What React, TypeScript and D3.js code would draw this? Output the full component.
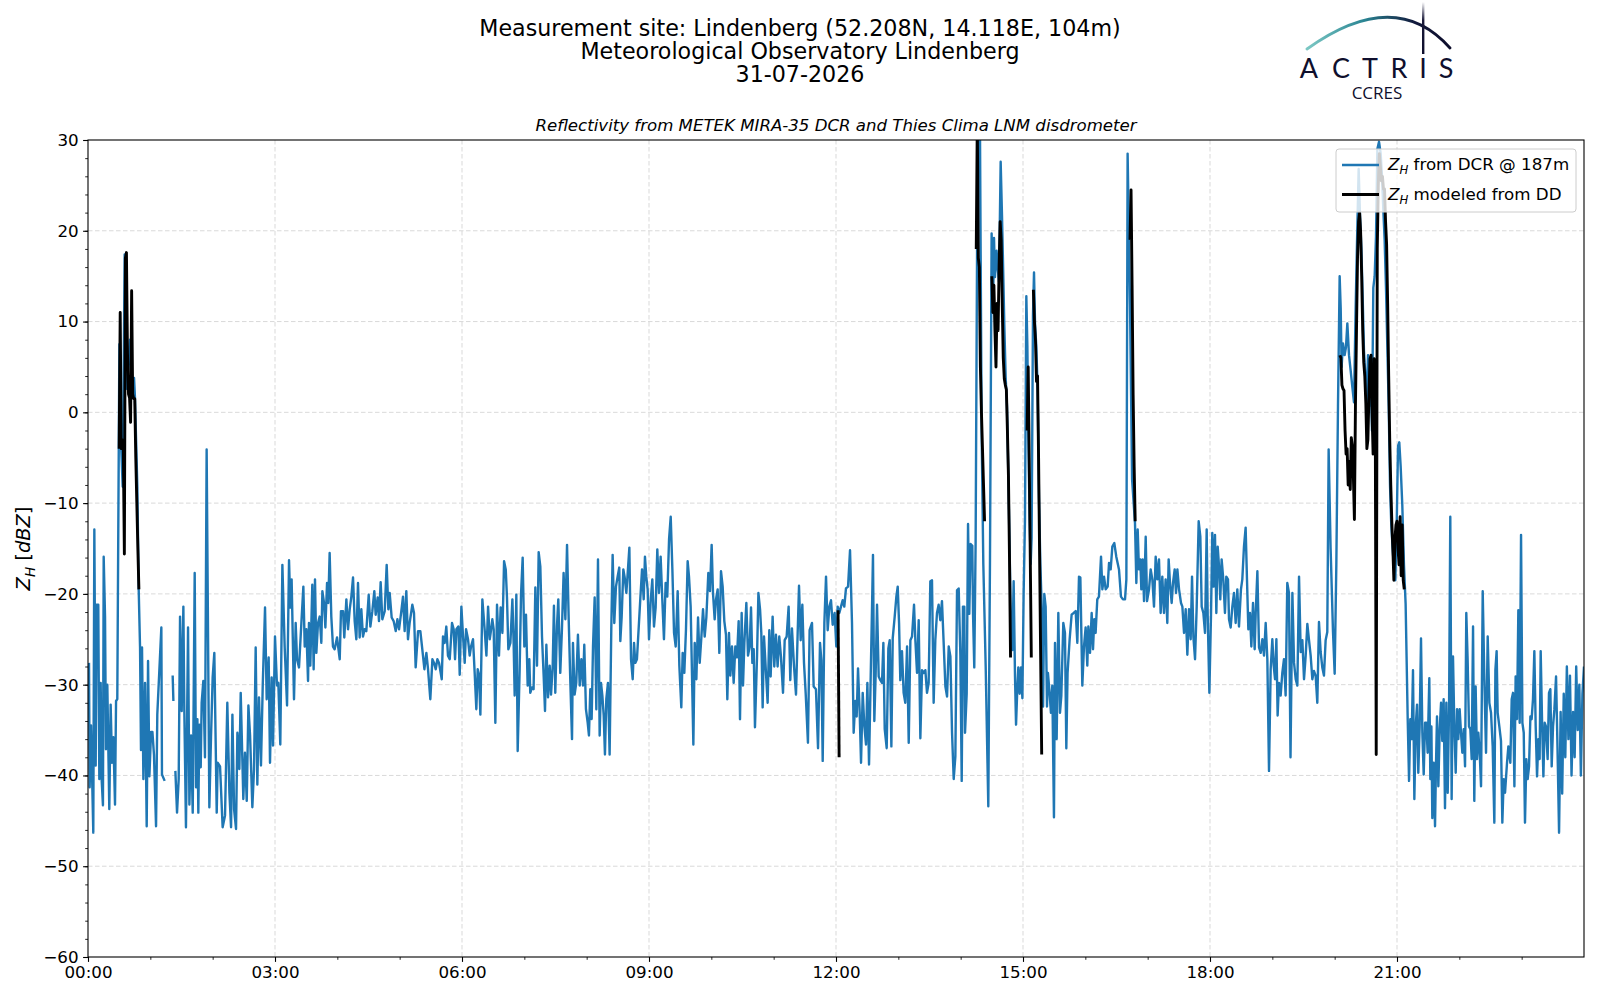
import { useEffect, useRef } from "react";
import * as d3 from "d3";

const WIDTH = 1600;
const HEIGHT = 1000;

// DCR reflectivity at 187 m as [minute of day, dBZ]; null = no data
type Obs = [number, number | null];

const dcr0003: Obs[] = [
  [0.96, -27.6], [1.6, -41.3], [2.9, -34.5], [5.1, -46.3], [6.1, -12.9], [7.4, -38.9], [8.3, -21.2], [9.9, -21.2],
  [10.9, -40.4], [12.2, -29.8], [13.2, -40.6], [14.4, -43.3], [15.1, -15.9], [16.4, -22.5], [17.3, -37.1], [18.6, -30],
  [20.5, -43.7], [21.8, -32.2], [23.1, -38.6], [24.4, -35.8], [26, -43.2], [27, -31.8], [28.2, -31.6], [30.2, 7.5],
  [32.1, -4.3], [33.4, -8.2], [35.3, 17.4], [37.2, 2.6], [40.4, 8], [42, 2.1], [44.3, 3.8], [45.2, 1.6],
  [47.5, -8.2], [48.8, -19.5], [50.1, -25.9], [51, -37.2], [52, -25.9], [53.3, -40.4], [54.9, -29.8], [56.5, -45.6],
  [57.8, -27.4], [59.1, -40.1], [60.7, -35.2], [62, -35.2], [63.5, -37.7], [65.5, -45.6], [66.7, -33.3], [70.6, -23.7],
  [71.2, -39.9], [73.8, -40.6], [76, null], [81.5, -29], [82.2, -31.8], [83, null], [84.1, -39.5], [85.7, -44.1],
  [87.3, -40.4], [88.6, -22.5], [90.2, -32.9], [91.8, -21.4], [92.7, -32.7], [94.3, -45.7], [96.3, -23.7], [97.6, -43.2],
  [99.2, -35.6], [100.8, -44.1], [102.7, -17.7], [104, -41.3], [105.3, -33.8], [106.2, -44.1], [107.2, -34.4], [108.5, -39.1],
  [109.4, -32], [111, -29.6], [112.6, -38], [114.2, -4.1], [116.8, -43.5], [118.4, -35.8], [120, -29.2], [121.6, -26.5],
  [123.9, -44.1], [124.8, -38.6], [127.1, -39], [129.6, -45.7], [131.9, -44.4], [134.1, -32], [136.1, -41.9], [137.7, -45.7],
  [139, -33.3], [140.6, -43.7], [142.5, -45.9], [143.8, -35.3], [145.7, -39.3], [147, -30.9], [149.5, -42.6], [151.1, -37.5],
  [152.8, -42.8], [154.4, -32.3], [156, -35.6], [158.2, -43.5], [159.8, -39.3], [161.4, -25.9], [163, -41], [164.6, -31.4],
  [166.5, -38.9], [168.2, -30.1], [170.4, -21.5], [172, -31.6], [173.9, -27], [175.2, -38.6], [176.8, -29.2], [178.1, -36.7],
];
const dcr0306: Obs[] = [
  [180, -24.7], [181.9, -30.1], [183.2, -29.8], [185.1, -36.6], [187.1, -16.8], [189.3, -25.8], [191.6, -32.3], [193.5, -16.3],
  [194.8, -21.5], [196, -18.4], [198.3, -31.6], [199.9, -23.2], [201.2, -27.2], [203.1, -28.1], [205.4, -23.2], [207.3, -19.2],
  [208.6, -25.8], [210.2, -23.9], [211.8, -29.6], [212.7, -23.2], [214, -27.9], [215.9, -19], [217.2, -28.3], [218.5, -18.4],
  [219.8, -26.5], [221.4, -23.2], [223, -22.5], [224.6, -25.4], [225.6, -19.7], [227.2, -21], [228.5, -23.7], [230.1, -18.8],
  [231.3, -21], [232.6, -15.5], [234.2, -22.5], [235.8, -25.8], [237.4, -26.1], [239.7, -24.8], [242.3, -27.2], [243.5, -21.9],
  [245.5, -21.9], [246.7, -24.8], [248.7, -20.6], [250.3, -23.9], [251.9, -21.7], [253.5, -20.3], [255.1, -18.2], [256.7, -23],
  [258.3, -25], [259.9, -18.8], [261.5, -24.8], [263.1, -21.7], [264.7, -24.7], [266.3, -23.9], [267.9, -24.1], [270.2, -20.1],
  [271.8, -23.6], [273.7, -21.9], [275.6, -19.7], [276.9, -22.3], [278.8, -20.4], [280.1, -23], [281.7, -18.7], [283.3, -22.8],
  [285.6, -21.9], [287.5, -16.8], [289.1, -21.7], [290.4, -19.9], [292.3, -22.6], [294.2, -23], [296.2, -24.1], [297.8, -22.8],
  [299.4, -23.9], [301.6, -21.9], [303.2, -20.3], [304.8, -24.1], [306.4, -19.7], [308, -25], [309.6, -23.2], [312.2, -21.2],
  [313.8, -22.1], [315.4, -28.1], [317.7, -24.1], [319.9, -24.1], [321.8, -26.1], [323.8, -28.3], [325.7, -26.5], [327.3, -28.3],
  [329.5, -31.6], [331.5, -27.2], [333.1, -27.6], [334.7, -28.3], [336.3, -27.2], [337.9, -27.6], [340.5, -29.4], [341.7, -24.7],
  [343.3, -25.4], [344.9, -23.6], [346.5, -26.8], [348.2, -27.2], [350.4, -23.2], [352, -23.9], [353.3, -27.2], [354.6, -23.9],
  [356.5, -23.6], [357.8, -28.9], [359.4, -21.4],
];
const dcr0609: Obs[] = [
  [361, -24.7], [362.6, -27.6], [363.9, -23.9], [365.8, -25], [367.4, -26.8], [368.7, -25.8], [370.6, -25], [372.2, -28.7],
  [373.8, -32.7], [375.1, -28.3], [376.4, -28.9], [377.7, -33.3], [379.6, -20.6], [381.8, -23.9], [383.5, -26.8], [385.1, -21.4],
  [386.7, -25], [388.3, -23.7], [389.2, -22.8], [390.5, -23.9], [392.1, -34.2], [393.7, -21.2], [395.6, -26.8], [397.2, -21.5],
  [398.9, -24.3], [400.5, -16.4], [402.1, -17.3], [403.3, -20.4], [404.6, -26.1], [406.6, -25.4], [408.5, -20.6], [409.7, -25.4],
  [410.7, -31.2], [412.3, -20.1], [413.6, -37.3], [415.5, -28.3], [416.8, -20.1], [418.4, -16], [420, -25.8], [421.6, -22.3],
  [423.2, -30.1], [424.8, -27.2], [425.7, -30.9], [427.4, -30.3], [428.9, -30.5], [430.6, -19.3], [432.2, -27.9], [433.8, -15.4],
  [435.4, -17], [437, -24.7], [438.6, -29], [439.9, -32.9], [441.2, -25.6], [442.8, -31.4], [444.4, -27.9], [445.7, -31.1],
  [447.3, -27.9], [448.5, -21.3], [449.8, -30.9], [451.4, -23.6], [452.7, -20.6], [454.6, -28.7], [456.2, -23.9], [457.8, -17.7],
  [459.5, -22.8], [461.1, -14.6], [462.7, -22.8], [464.3, -29.8], [465.9, -36], [466.8, -25.4], [468.4, -31.1], [470, -29.8],
  [471.6, -24.5], [473.3, -30.1], [474.9, -27.2], [476.5, -30.1], [477.7, -25.6], [479.3, -32.7], [481, -34.2], [482.2, -35.6],
  [483.5, -30.5], [484.8, -33.8], [486.1, -25.8], [487.7, -20.4], [489.3, -32.7], [490.9, -16.2], [492.5, -35.6], [493.8, -29.8],
  [495.1, -31.2], [496.4, -33.4], [497.6, -37.7], [498.9, -31.6], [500.5, -29.8], [502.1, -37.7], [503.7, -23.9], [505, -15.7],
  [506.6, -23.2], [508.2, -19.2], [509.8, -18.1], [511.4, -17.1], [512.4, -25.2], [513.7, -22.5], [515.3, -17.3], [516.6, -18.2],
  [518.2, -19.9], [519.5, -17.7], [521.1, -14.9], [522.7, -27.2], [524.3, -29.4], [525.6, -25.4], [526.8, -27.6], [528.4, -27.2],
  [530, -23.9], [531.7, -20.4], [533.3, -17.3], [534.9, -20.6], [536.1, -15.9], [537.4, -18.1], [538.7, -19.5],
];
const dcr0912: Obs[] = [
  [540, -25], [541.6, -20.8], [543.2, -18.4], [544.8, -23.6], [546.4, -21.5], [548, -15.1], [549.6, -19.9], [551.2, -15.9],
  [552.8, -20.6], [554.4, -25], [556, -18.8], [557.6, -20.3], [559.3, -14], [560.9, -11.5], [562.5, -17.3], [564.1, -24.3],
  [565.7, -25.8], [567.6, -19.7], [569.2, -27.9], [571.1, -32.5], [572.4, -26.5], [574, -28.7], [575.6, -23.9], [577.2, -16.4],
  [578.5, -18.1], [580.1, -21.4], [581.4, -29], [582.7, -36.6], [584, -25.4], [585.6, -29.4], [587.2, -22.6], [588.8, -27.6],
  [590.4, -24.8], [592, -21.7], [593.6, -24.7], [595.2, -22.6], [597.1, -17.7], [598.7, -19.7], [600.3, -14.6], [601.6, -19.9],
  [603.2, -22.8], [604.5, -20.6], [606.1, -19.5], [607.7, -26.5], [609.3, -17.5], [610.9, -19.2], [612.5, -23], [614.1, -24.5],
  [615.4, -31.6], [617, -24.3], [618.3, -29], [619.9, -25.8], [621.5, -29.8], [623.1, -25.8], [624.7, -27], [626.3, -23],
  [627.6, -33.8], [629.2, -22.1], [630.5, -30.1], [631.8, -25.4], [633.7, -21], [635.3, -26.8], [636.9, -25.8], [638.2, -21.5],
  [639.5, -27.6], [640.8, -26.1], [642, -34.7], [644, -26.8], [645.3, -19.9], [646.9, -21.7], [648.1, -24.3], [649.4, -32.5],
  [650.7, -24.7], [652.6, -28.7], [654.2, -32], [655.8, -24], [657.1, -29.1], [659, -22.5], [660.6, -28], [662.2, -24.5],
  [663.8, -28], [665.4, -24.7], [667, -26.9], [669, -30.9], [670.6, -25.1], [672.5, -24.7], [674.4, -21.4], [676, -29.5],
  [677.6, -23.8], [679.6, -28], [681.5, -31.1], [683.1, -24.3], [684.4, -19.1], [686, -25.1], [687.6, -21.2], [689.2, -27.6],
  [690.8, -30.9], [693, -36.4], [694.6, -24], [696.9, -23.2], [698.5, -30.2], [700.7, -30.5], [702.7, -37], [704.6, -25.4],
  [705.9, -27.3], [707.2, -38.4], [708.8, -23.2], [710.4, -18.1], [712, -24], [713.6, -21.4], [715.2, -20.7], [716.8, -23.4],
  [718.7, -22.1],
];
const dcr1215: Obs[] = [
  [720.3, -25.8], [721.6, -21.4], [723.2, -22.1], [724.8, -21.4], [726.4, -20.7], [728, -21.4], [729.6, -19.4], [731.6, -19.2],
  [733.5, -15.2], [735.4, -23.2], [737, -35.3], [738.6, -31.8], [739.9, -33.5], [741.2, -28.2], [742.8, -33.1], [744.1, -38.6],
  [745.7, -30.9], [747.3, -34.6], [748.9, -36.6], [750.2, -29.8], [751.8, -38.8], [753.4, -29.1], [754.7, -21.4], [755.6, -15.7],
  [756.9, -34], [758.2, -28.7], [759.5, -21.2], [761.1, -29.1], [762.7, -29.5], [764.3, -29.8], [765.6, -25.4], [766.9, -34.9],
  [768.8, -37], [770.4, -26], [771.7, -25.1], [773.3, -36.8], [774.6, -24.9], [776.5, -22.5], [778.1, -20.3], [779.4, -19.2],
  [780.7, -23.2], [781.9, -29.5], [783.5, -26.3], [785.1, -30.9], [786.7, -32], [788.4, -25.8], [790, -36.4], [791.6, -25.1],
  [793.2, -24.7], [795.1, -21.2], [796.4, -25.1], [798, -28.7], [799.6, -22.9], [801.2, -35.9], [802.8, -28.4], [804.4, -28.7],
  [806, -28.4], [807.6, -30.9], [809.2, -29.8], [810.8, -18.6], [812.4, -18.5], [814, -32], [815.6, -25.1], [817.2, -22.1],
  [818.8, -21.2], [820.4, -22.9], [822, -20.8], [823.7, -25.6], [825.3, -30.2], [826.9, -31.3], [828.5, -25.8], [830.1, -26.9],
  [831.7, -35.3], [833.3, -40.4], [834.9, -37.9], [836.5, -19.6], [838.1, -19.4], [839.7, -26.7], [841, -40.6], [842.2, -21.4],
  [843.5, -21.4], [844.2, -35.3], [845.8, -31], [847.1, -12.3], [848.3, -22.2], [849.6, -14.5], [851.2, -14.7], [851.9, -22.2],
  [853.1, -28.1], [854.4, -14.3], [856.4, 32], [858.6, 31], [860.2, -2.3], [861.8, -16.7], [864.1, -28.1], [866.6, -43.4],
  [868.2, -16.7], [869.8, 19.7], [871.1, 11.1], [872.1, 19.2], [873, 14.9], [874.6, 17.8], [875.6, 15.9], [876.9, 14.4],
  [878.5, 27.6], [879.8, 21.6], [880.7, 16.8], [882, 9.7], [883.3, 3.9], [884.6, 0.6], [885.9, -7.1], [887.2, -15.7],
  [888.4, -23.8], [889.7, -26.2], [891, -18.6], [892.3, -29.1], [893.3, -34.4], [894.5, -30.5], [895.5, -28.1], [896.8, -31],
  [898.1, -28.1], [899.4, -31.5],
];
const dcr1518: Obs[] = [
  [900.6, -20], [901.9, -11.9], [903.2, 12.8], [904.2, 7.3], [905.1, -2.3], [906.4, -11.9], [907.4, -16.7], [908.3, -13.8],
  [909.6, 10.6], [910.6, 15.4], [911.6, 9.7], [912.8, 7.3], [914.1, 2.5], [915.4, -9.5], [916.7, -16.7], [918, -21.4],
  [919.3, -32.4], [920.5, -20], [921.8, -21.4], [923.1, -32.4], [924, -28.7], [925.6, -30.9], [926.9, -33.1], [928.2, -30.1],
  [929.8, -44.6], [930.8, -25.4], [932.4, -36], [934, -22.1], [935.6, -33.1], [936.9, -31.2], [938.8, -23.2], [940.4, -24.3],
  [941.7, -37], [942.9, -28.7], [944.9, -25], [946.8, -22.3], [948.8, -22.1], [950.7, -21.9], [952.3, -25.4], [953.9, -18.1],
  [955.2, -18.2], [957.1, -30.1], [958.7, -25.8], [960.3, -23.7], [961.9, -27.9], [962.9, -23.6], [964.5, -26.5], [966.1, -22.1],
  [967.4, -26.1], [968.6, -22.8], [969.9, -24.3], [971.5, -20.6], [973.1, -20.3], [975.1, -15.9], [976.4, -19.5], [978, -18.1],
  [979.6, -19.5], [981.5, -19.2], [982.8, -16.6], [984.4, -17.3], [986, -14.8], [987.9, -14.4], [989.8, -15.9], [992.4, -17.3],
  [994.3, -20.3], [996.2, -20.6], [998.2, -20.6], [999.5, -18.4], [1000.7, 28.5], [1003, 12], [1005, -7.4], [1007.8, -12.2],
  [1009.1, -18.8], [1010.4, -12.9], [1011.6, -17.3], [1012.9, -16.2], [1013.9, -19.5], [1015.2, -16.2], [1016.5, -20.8], [1018.1, -13.7],
  [1019.4, -20.8], [1021.3, -19.5], [1022.9, -17.3], [1024.5, -18.4], [1026.1, -21.4], [1027.7, -15.9], [1029.3, -18.4], [1030.9, -16.2],
  [1032.5, -22.1], [1034.1, -18.1], [1035.7, -22.1], [1037.3, -18.4], [1038.9, -23.2], [1040.2, -16.2], [1041.5, -18.8], [1043.1, -21],
  [1044.4, -18.8], [1046, -17.3], [1047.3, -19.9], [1048.6, -17.3], [1050.2, -19.5], [1052.1, -21], [1053.4, -21.4], [1055, -24.3],
  [1056.6, -21.7], [1058.2, -26.7], [1059.8, -21.7], [1061.4, -25], [1062.7, -18.1], [1064, -24.7], [1065.6, -27.2], [1067.2, -21.4],
  [1069.1, -12], [1070.7, -13.7], [1072, -21.4], [1073.6, -22.1], [1075.2, -24.3], [1076.8, -12.9], [1077.8, -22.5], [1079.4, -30.9],
];
const dcr1821: Obs[] = [
  [1081, -22.1], [1082.2, -13.3], [1083.5, -19.2], [1084.8, -13.5], [1086.1, -22.1], [1087.4, -14.8], [1088.7, -17], [1089.9, -20.6],
  [1091.2, -16.2], [1092.8, -18.4], [1094.4, -22.1], [1095.7, -18.1], [1097.3, -18.4], [1098.3, -22.8], [1099.9, -23.7], [1101.5, -21.4],
  [1103.1, -19.9], [1104.7, -23.2], [1106.3, -19.5], [1107.9, -23.6], [1109.8, -19.5], [1111.1, -18.4], [1112.7, -14.8], [1114.3, -12.7],
  [1115.6, -18.4], [1116.9, -23.9], [1118.5, -22.1], [1119.8, -25.8], [1121.4, -21], [1123, -26.1], [1124, -22.1], [1125.6, -17.5],
  [1127.2, -25.9], [1128.8, -26.5], [1130.4, -25], [1132, -26.8], [1133.6, -23.2], [1135.2, -27.2], [1136.8, -39.5], [1138.4, -28.3],
  [1140, -25], [1141.3, -27.9], [1142.6, -29.4], [1143.9, -25], [1145.1, -33.4], [1146.4, -29.8], [1148, -31.2], [1149.6, -28.7],
  [1151.2, -27.2], [1152.8, -31.2], [1154.4, -18.8], [1156, -19.9], [1157.5, -38], [1159.3, -19.9], [1160.9, -27.6], [1162.5, -29.4],
  [1164.1, -30.1], [1165.7, -18.1], [1167.3, -26.4], [1168.9, -25.1], [1170.5, -29.4], [1172.1, -26.8], [1173.7, -23.3], [1175.3, -25.1],
  [1176.9, -26.8], [1178.5, -29.4], [1180.1, -28.5], [1181.7, -29], [1183.3, -32], [1184.9, -23.1], [1186.5, -26.4], [1188.1, -28.1],
  [1189.7, -29], [1191.3, -25.1], [1192.9, -24.2], [1194.2, -4.1], [1196.1, -15], [1198.4, -24.2], [1200, -28.8], [1201.6, -16.8],
  [1203.2, 0.7], [1204.8, 15], [1205.8, 11.5], [1206.7, 5], [1208, 7.6], [1209.6, 6.3], [1210.9, 7.2], [1212.2, 9.8],
  [1213.8, 6.3], [1215.4, 4.6], [1217, 2.8], [1218.6, 1.1], [1220.2, 11.5], [1221.8, 20.3], [1223.1, 26.8], [1224.4, 21.6],
  [1225.7, 18.1], [1226.9, 12.9], [1228.2, 6.8], [1229.5, 4.1], [1230.8, 0.7], [1232.1, 6.3], [1233.4, 0.7], [1234.6, 5.9],
  [1235.9, -2], [1237.2, 13.7], [1238.5, 15], [1239.8, 19.4], [1241.1, 29], [1242.7, 29.8], [1244.3, 28.5], [1245.6, 25.9],
  [1246.8, 22.4], [1248.1, 19], [1249.4, 13.7], [1250.7, 7.2], [1252, 0.7], [1253.3, -8.1], [1254.5, -12.4], [1255.8, -15],
  [1257.1, -17.2], [1258.4, -18.5], [1259.7, -12.4],
];
const dcr2124: Obs[] = [
  [1261, -3.7], [1262.2, -3.3], [1263.5, -5.9], [1265.1, -10.2], [1266.7, -16.8], [1268.3, -21.1], [1270.3, -33.8], [1271.6, -40.6],
  [1272.8, -33.8], [1274.1, -36], [1275.4, -28.4], [1276.7, -42.6], [1278, -34.6], [1279.3, -32.2], [1280.5, -39.7], [1281.8, -34.6],
  [1283.1, -24.9], [1284.4, -35.3], [1285.7, -39.9], [1287, -34.2], [1288.2, -34.2], [1289.5, -37.5], [1291.1, -29.3], [1292.1, -40.4],
  [1293.1, -34.6], [1294, -44.7], [1295.3, -38.6], [1296.6, -45.6], [1297.5, -39], [1298.5, -33.5], [1299.8, -41.2], [1301.1, -34.9],
  [1302.4, -32], [1303.6, -36.2], [1304.9, -31.6], [1306.2, -43.6], [1307.5, -32], [1308.8, -41.9], [1310.1, -32.7], [1311.3, -11.5],
  [1312.6, -42.6], [1313.9, -26.9], [1315.2, -34.6], [1316.5, -39.7], [1317.8, -32.7], [1319, -36], [1320.3, -32.7], [1321.6, -35.3],
  [1322.9, -37.5], [1324.2, -34.9], [1325.5, -39], [1326.7, -22.1], [1328, -27.3], [1329.3, -34.6], [1330.6, -34.9], [1331.9, -38.2],
  [1333.2, -23.6], [1334.4, -42.8], [1335.7, -30.2], [1337, -38.2], [1338.3, -35.3], [1339.6, -37.5], [1340.9, -41.2], [1342.5, -19.7],
  [1344.1, -29.5], [1345.7, -37.5], [1347.3, -24.7], [1348.9, -32], [1350.5, -33.1], [1352.1, -36.8], [1353.7, -45.2], [1354.7, -28.4],
  [1355.9, -26.3], [1356.9, -33.1], [1358.5, -34.6], [1360.1, -36.2], [1361.4, -45.2], [1362.7, -40.4], [1364, -41.9], [1365.9, -38.6],
  [1367.2, -36.8], [1369.1, -38.6], [1370.4, -31.6], [1371.7, -30.9], [1373, -41.2], [1374.2, -29.1], [1375.5, -33.8], [1376.8, -21.8],
  [1378.1, -34.2], [1379.4, -13.5], [1380.7, -34.2], [1382, -35.3], [1383.2, -45.2], [1384.5, -38.2], [1385.8, -40.4], [1387.1, -39],
  [1388.4, -33.5], [1389.6, -33.8], [1390.9, -31.6], [1392.2, -26.3], [1393.5, -34.6], [1394.8, -40.1], [1396.1, -36], [1397.3, -38.2],
  [1398.3, -26.3], [1399.6, -33.8], [1400.9, -40.1], [1402.2, -34.2], [1403.4, -34.6], [1405, -38.2], [1406.3, -30.9], [1407.6, -30.5],
  [1408.9, -39], [1410.2, -34.6], [1411.5, -32.7], [1413.1, -29.1], [1414.5, -37], [1416, -46.3], [1417.5, -33], [1419, -42],
  [1420.5, -31], [1422, -38], [1423.5, -28], [1425, -36], [1426.5, -29], [1428, -40], [1429.5, -33], [1431, -38],
  [1432.5, -28], [1434, -35], [1435.5, -30], [1437, -40], [1438.5, -31], [1440, -28],
];

// Z_H modeled from the disdrometer, one value per minute while it rained
const ddRain1Start = 30;
const ddRain1 = [-4, 11, -4, -3, -4, -15.6, 17, 17.6, 6.5, 2, 1.6, -1.1, 13.4, 2, 1.5, 1.5, -5, -10, -15, -19.5];
const ddRain2Start = 722;
const ddRain2 = [-21.8, -38];
const ddRain3Start = 855;
const ddRain3 = [
  18, 32, 17, 16, 5, 0, -4, -8, -12, null, null, null, null, null, null,
  15, 11, 14, 9, 5, 12, 9, 16, 21, 19, 12, 6, 3.7, 3, 2.5, -2, -7, -16, -27,
  null, null, null, null, null, null, null, null, null, null, null, null, null, null, null,
  -2, 5, -5, -16, -27, null, 13.5, 10, 8, 3.4, 4, -5, -16, -27, -37.7,
];
const ddRain4Start = 1003;
const ddRain4 = [19, 24.5, 14, 2, -6, -12];
const ddRain5Start = 1205;
const ddRain5 = [
  6.3, 6, 3, 2.6, 2.4, -2, -4.6, -4, -8, -5.4, -8.5, -2.8, -3.7, -7, -11.8, 0.7, 9, 17, 21, 22,
  19.8, 15, 9, 5.5, 4, 1, -4, -3, 2, 5.9, 6.3, 0, -4.6, 5.9, 3.3, -37.7, 18, 25, 28.5, 27,
  25.5, 26, 24.6, 24.6, 21, 18.5, 12, 4, -3, -8, -12, -15, -18.5, -14, -12.4, -12, -15, -16.8, -11.5, -18,
  -12.4, -18.5, -19.5,
];

const xMajorHours = [0, 3, 6, 9, 12, 15, 18, 21];
const xMinorHours = [1, 2, 4, 5, 7, 8, 10, 11, 13, 14, 16, 17, 19, 20, 22, 23];
const yMajorTicks = [-60, -50, -40, -30, -20, -10, 0, 10, 20, 30];

const titleLines = [
  "Measurement site: Lindenberg (52.208N, 14.118E, 104m)",
  "Meteorological Observatory Lindenberg",
  "31-07-2026",
];
const subTitle = "Reflectivity from METEK MIRA-35 DCR and Thies Clima LNM disdrometer";

type Pt = { t: number; v: number | null };

function ReflectivityChart() {
  const svgRef = useRef<SVGSVGElement | null>(null);

  useEffect(() => {
    if (!svgRef.current) return;
    document.body.style.margin = "0";

    const svg = d3.select(svgRef.current);
    svg.selectAll("*").remove();

    const left = 88, right = 1584, top = 140, bottom = 957;
    const font = "DejaVu Sans, sans-serif";

    const x = d3.scaleLinear().domain([0, 1440]).range([left, right]);
    const y = d3.scaleLinear().domain([-60, 30]).range([bottom, top]);

    const dcr: Pt[] = [
      ...dcr0003, ...dcr0306, ...dcr0609, ...dcr0912,
      ...dcr1215, ...dcr1518, ...dcr1821, ...dcr2124,
    ].map(([t, v]) => ({ t, v }));

    const ddEvents: Pt[][] = [
      [ddRain1Start, ddRain1],
      [ddRain2Start, ddRain2],
      [ddRain3Start, ddRain3],
      [ddRain4Start, ddRain4],
      [ddRain5Start, ddRain5],
    ].map(([start, vals]: any) => vals.map((v: number | null, i: number) => ({ t: start + i, v })));

    svg.append("rect").attr("width", WIDTH).attr("height", HEIGHT).attr("fill", "white");

    const defs = svg.append("defs");
    defs.append("clipPath").attr("id", "plot-clip")
      .append("rect")
      .attr("x", left).attr("y", top)
      .attr("width", right - left).attr("height", bottom - top);

    // grid
    const grid = svg.append("g")
      .attr("stroke", "#cfcfcf")
      .attr("stroke-width", 0.8)
      .attr("stroke-dasharray", "4.5,2.5");
    grid.selectAll("line.gx")
      .data(xMajorHours.slice(1))
      .enter()
      .append("line")
      .attr("x1", (d) => x(d * 60)).attr("x2", (d) => x(d * 60))
      .attr("y1", top).attr("y2", bottom);
    grid.selectAll("line.gy")
      .data(yMajorTicks.slice(1, -1))
      .enter()
      .append("line")
      .attr("x1", left).attr("x2", right)
      .attr("y1", (d) => y(d)).attr("y2", (d) => y(d));

    const line = d3.line<Pt>()
      .defined((d) => d.v !== null)
      .x((d) => x(d.t))
      .y((d) => y(d.v as number));

    const plot = svg.append("g").attr("clip-path", "url(#plot-clip)");
    plot.append("path")
      .datum(dcr)
      .attr("d", line)
      .attr("fill", "none")
      .attr("stroke", "#1f77b4")
      .attr("stroke-width", 2.4)
      .attr("stroke-linejoin", "round");

    plot.selectAll("path.dd")
      .data(ddEvents)
      .enter()
      .append("path")
      .attr("d", (d) => line(d))
      .attr("fill", "none")
      .attr("stroke", "black")
      .attr("stroke-width", 2.9)
      .attr("stroke-linejoin", "round");

    // axes
    const styleAxis = (g: any) => {
      g.select(".domain").remove();
      g.attr("font-family", font).attr("font-size", 16.7);
      g.selectAll("line").attr("stroke", "black").attr("stroke-width", 1.1);
      g.selectAll("text").attr("fill", "black");
    };

    svg.append("g")
      .attr("transform", `translate(0,${bottom})`)
      .call(
        d3.axisBottom(x)
          .tickValues(xMajorHours.map((h) => h * 60))
          .tickFormat((d) => `${String(+d / 60).padStart(2, "0")}:00`)
          .tickSize(4.9)
          .tickPadding(4)
      )
      .call(styleAxis);
    svg.append("g")
      .attr("transform", `translate(0,${bottom})`)
      .call(d3.axisBottom(x).tickValues(xMinorHours.map((h) => h * 60)).tickFormat(() => "").tickSize(2.8))
      .call(styleAxis)
      .selectAll("line").attr("stroke-width", 0.85);

    svg.append("g")
      .attr("transform", `translate(${left},0)`)
      .call(d3.axisLeft(y).tickValues(yMajorTicks).tickSize(4.9).tickPadding(4.5))
      .call(styleAxis);
    svg.append("g")
      .attr("transform", `translate(${left},0)`)
      .call(d3.axisLeft(y).ticks(45).tickFormat(() => "").tickSize(2.8))
      .call(styleAxis)
      .selectAll("line").attr("stroke-width", 0.85);

    // spines
    svg.append("rect")
      .attr("x", left).attr("y", top)
      .attr("width", right - left).attr("height", bottom - top)
      .attr("fill", "none")
      .attr("stroke", "black")
      .attr("stroke-width", 1.1);

    // y label: Z_H [dBZ]
    const ylab = svg.append("text")
      .attr("transform", `translate(30,${(top + bottom) / 2}) rotate(-90)`)
      .attr("text-anchor", "middle")
      .attr("font-family", font)
      .attr("font-size", 19.4);
    ylab.append("tspan").attr("font-style", "italic").text("Z");
    ylab.append("tspan").attr("font-style", "italic").attr("font-size", 13.6).attr("dy", 4.5).text("H");
    ylab.append("tspan").attr("dy", -4.5).text(" [");
    ylab.append("tspan").attr("font-style", "italic").text("dBZ");
    ylab.append("tspan").text("]");

    // titles
    svg.append("g")
      .attr("font-family", font)
      .attr("font-size", 22.2)
      .attr("text-anchor", "middle")
      .selectAll("text")
      .data(titleLines)
      .enter()
      .append("text")
      .attr("x", 800)
      .attr("y", (_, i) => 36 + i * 23)
      .text((d) => d);

    svg.append("text")
      .attr("x", (left + right) / 2)
      .attr("y", 131)
      .attr("text-anchor", "middle")
      .attr("font-family", font)
      .attr("font-style", "italic")
      .attr("font-size", 16.6)
      .text(subTitle);

    // legend
    const legend = svg.append("g");
    legend.append("rect")
      .attr("x", 1336).attr("y", 149)
      .attr("width", 240).attr("height", 63)
      .attr("rx", 3)
      .attr("fill", "white").attr("fill-opacity", 0.8)
      .attr("stroke", "#cccccc");
    const entries = [
      { color: "#1f77b4", width: 2.4, text: " from DCR @ 187m" },
      { color: "black", width: 2.9, text: " modeled from DD" },
    ];
    entries.forEach((e, i) => {
      const cy = 165 + i * 29.5;
      legend.append("line")
        .attr("x1", 1342).attr("x2", 1379)
        .attr("y1", cy).attr("y2", cy)
        .attr("stroke", e.color).attr("stroke-width", e.width);
      const t = legend.append("text")
        .attr("x", 1388).attr("y", cy + 5)
        .attr("font-family", font)
        .attr("font-size", 16.7);
      t.append("tspan").attr("font-style", "italic").text("Z");
      t.append("tspan").attr("font-style", "italic").attr("font-size", 11.7).attr("dy", 4).text("H");
      t.append("tspan").attr("dy", -4).text(e.text);
    });

    // ACTRIS logo
    const arcGrad = defs.append("linearGradient").attr("id", "arc-grad")
      .attr("x1", "0%").attr("x2", "100%").attr("y1", "0%").attr("y2", "0%");
    arcGrad.append("stop").attr("offset", "0%").attr("stop-color", "#7cc8c4");
    arcGrad.append("stop").attr("offset", "40%").attr("stop-color", "#2a8593");
    arcGrad.append("stop").attr("offset", "75%").attr("stop-color", "#121a3c");
    arcGrad.append("stop").attr("offset", "100%").attr("stop-color", "#0d0d2b");
    const barGrad = defs.append("linearGradient").attr("id", "bar-grad")
      .attr("x1", "0%").attr("x2", "0%").attr("y1", "0%").attr("y2", "100%");
    barGrad.append("stop").attr("offset", "0%").attr("stop-color", "#ffffff");
    barGrad.append("stop").attr("offset", "35%").attr("stop-color", "#1a1a3a");
    barGrad.append("stop").attr("offset", "100%").attr("stop-color", "#0d0d2b");

    const logo = svg.append("g");
    logo.append("path")
      .attr("d", "M1307,49 Q1395,-14 1450,48")
      .attr("fill", "none")
      .attr("stroke", "url(#arc-grad)")
      .attr("stroke-width", 2.8)
      .attr("stroke-linecap", "round");
    logo.append("rect")
      .attr("x", 1422).attr("y", 2)
      .attr("width", 2.4).attr("height", 52)
      .attr("fill", "url(#bar-grad)");
    const letters = ["A", "C", "T", "R", "I", "S"];
    const letterX = [1309, 1341, 1370, 1399, 1423, 1446];
    logo.append("g")
      .attr("font-family", "Lato, Open Sans, sans-serif")
      .attr("font-size", 27)
      .attr("fill", "#0f0f2d")
      .attr("text-anchor", "middle")
      .selectAll("text")
      .data(letters)
      .enter()
      .append("text")
      .attr("x", (_, i) => letterX[i])
      .attr("y", 78)
      .text((d) => d);
    logo.append("text")
      .attr("x", 1377).attr("y", 99)
      .attr("text-anchor", "middle")
      .attr("font-family", "Open Sans, sans-serif")
      .attr("font-size", 17)
      .attr("fill", "#0f0f2d")
      .text("CCRES");
  }, []);

  return (
    <svg
      ref={svgRef}
      width={WIDTH}
      height={HEIGHT}
      style={{ display: "block", position: "absolute", left: 0, top: 0 }}
    />
  );
}

export default function App() {
  return <ReflectivityChart />;
}
